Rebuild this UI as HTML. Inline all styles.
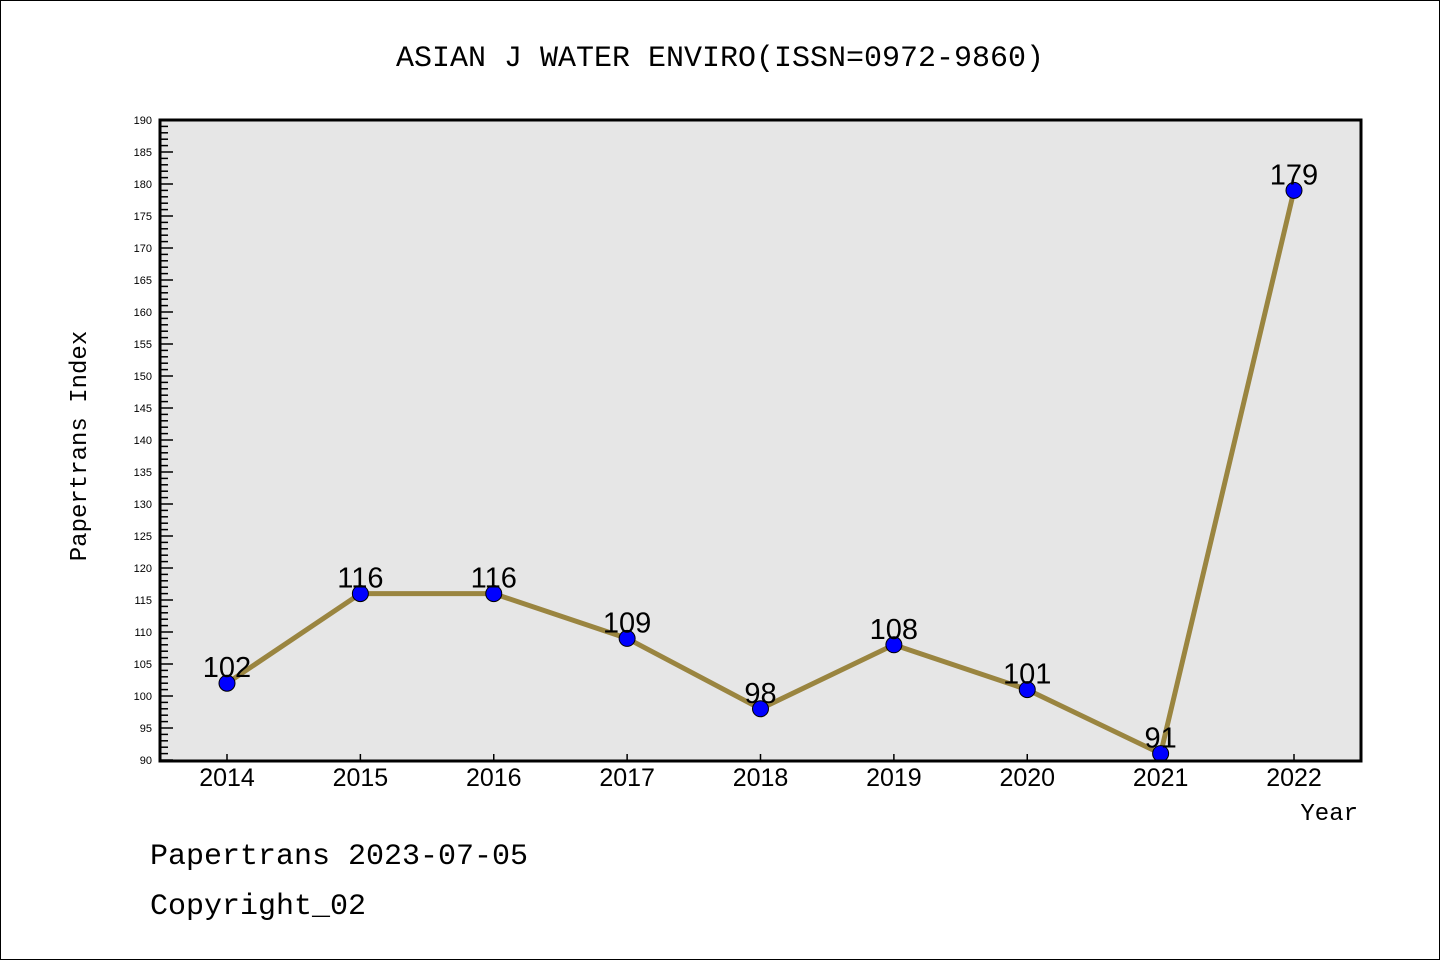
<!DOCTYPE html>
<html><head><meta charset="utf-8"><style>
html,body{margin:0;padding:0;background:#fff}
svg{display:block}
</style></head><body>
<svg id="chart" width="1440" height="960" xmlns="http://www.w3.org/2000/svg">
<rect x="0.5" y="0.5" width="1439" height="959" fill="#fff" stroke="#000"/>
<text x="720" y="66" text-anchor="middle" font-family="Liberation Mono, monospace" font-size="30">ASIAN J WATER ENVIRO(ISSN=0972-9860)</text>
<rect x="160" y="120" width="1201" height="641" fill="#e6e6e6"/>
<g id="yaxis"></g>
<g id="xaxis"></g>
<g id="series"></g>
<rect x="160" y="120" width="1201" height="641" fill="none" stroke="#000" stroke-width="3"/>
<text transform="translate(86,446) rotate(-90)" text-anchor="middle" font-family="Liberation Mono, monospace" font-size="24">Papertrans Index</text>
<text x="1358" y="820" text-anchor="end" font-family="Liberation Mono, monospace" font-size="24">Year</text>
<text x="150" y="864" font-family="Liberation Mono, monospace" font-size="30">Papertrans 2023-07-05</text>
<text x="150" y="914" font-family="Liberation Mono, monospace" font-size="30">Copyright_02</text>
</svg>
<script>
const years = ["2014","2015","2016","2017","2018","2019","2020","2021","2022"];
const values = [102,116,116,109,98,108,101,91,179];
const yMin = 90, yMax = 190;
const NS = "http://www.w3.org/2000/svg";
function xs(i){ return 227 + i*(1294-227)/8; }
function ys(v){ return 760 - (v-yMin)*(640/(yMax-yMin)); }
function mk(tag, attrs, parent){ const e=document.createElementNS(NS,tag); for(const k in attrs) e.setAttribute(k,attrs[k]); parent.appendChild(e); return e; }
const ya=document.getElementById('yaxis'), xa=document.getElementById('xaxis'), sg=document.getElementById('series');
for(let v=yMin; v<=yMax; v++){
  const major = v%5===0;
  const t=mk('line',{x1:160,x2:160+(major?13:8),y1:ys(v),y2:ys(v),stroke:'#000','stroke-width':1.5},ya);
  
  
  if(major){
    const l=mk('text',{x:152,y:ys(v)+4,'text-anchor':'end','font-family':'Liberation Sans, sans-serif','font-size':11},ya);
    l.textContent=v;
    
    
  }
}
years.forEach((y,i)=>{
  const t=mk('line',{x1:xs(i),x2:xs(i),y1:760,y2:754,stroke:'#000','stroke-width':1.5},xa);
  
  
  const l=mk('text',{x:xs(i),y:786,'text-anchor':'middle','font-family':'Liberation Sans, sans-serif','font-size':25},xa);
  l.textContent=y;
  
  
});
const pl=mk('polyline',{points:values.map((v,i)=>xs(i)+','+ys(v)).join(' '),fill:'none',stroke:'#9a8540','stroke-width':5,'stroke-linejoin':'round'},sg);


values.forEach((v,i)=>{
  const c=mk('circle',{cx:xs(i),cy:ys(v),r:8,fill:'#0000ff',stroke:'#000','stroke-width':1},sg);
  
  
  const l=mk('text',{x:xs(i),y:ys(v)-6,'text-anchor':'middle','font-family':'Liberation Sans, sans-serif','font-size':29},sg);
  l.textContent=v;
  
  
});
</script>
</body></html>
